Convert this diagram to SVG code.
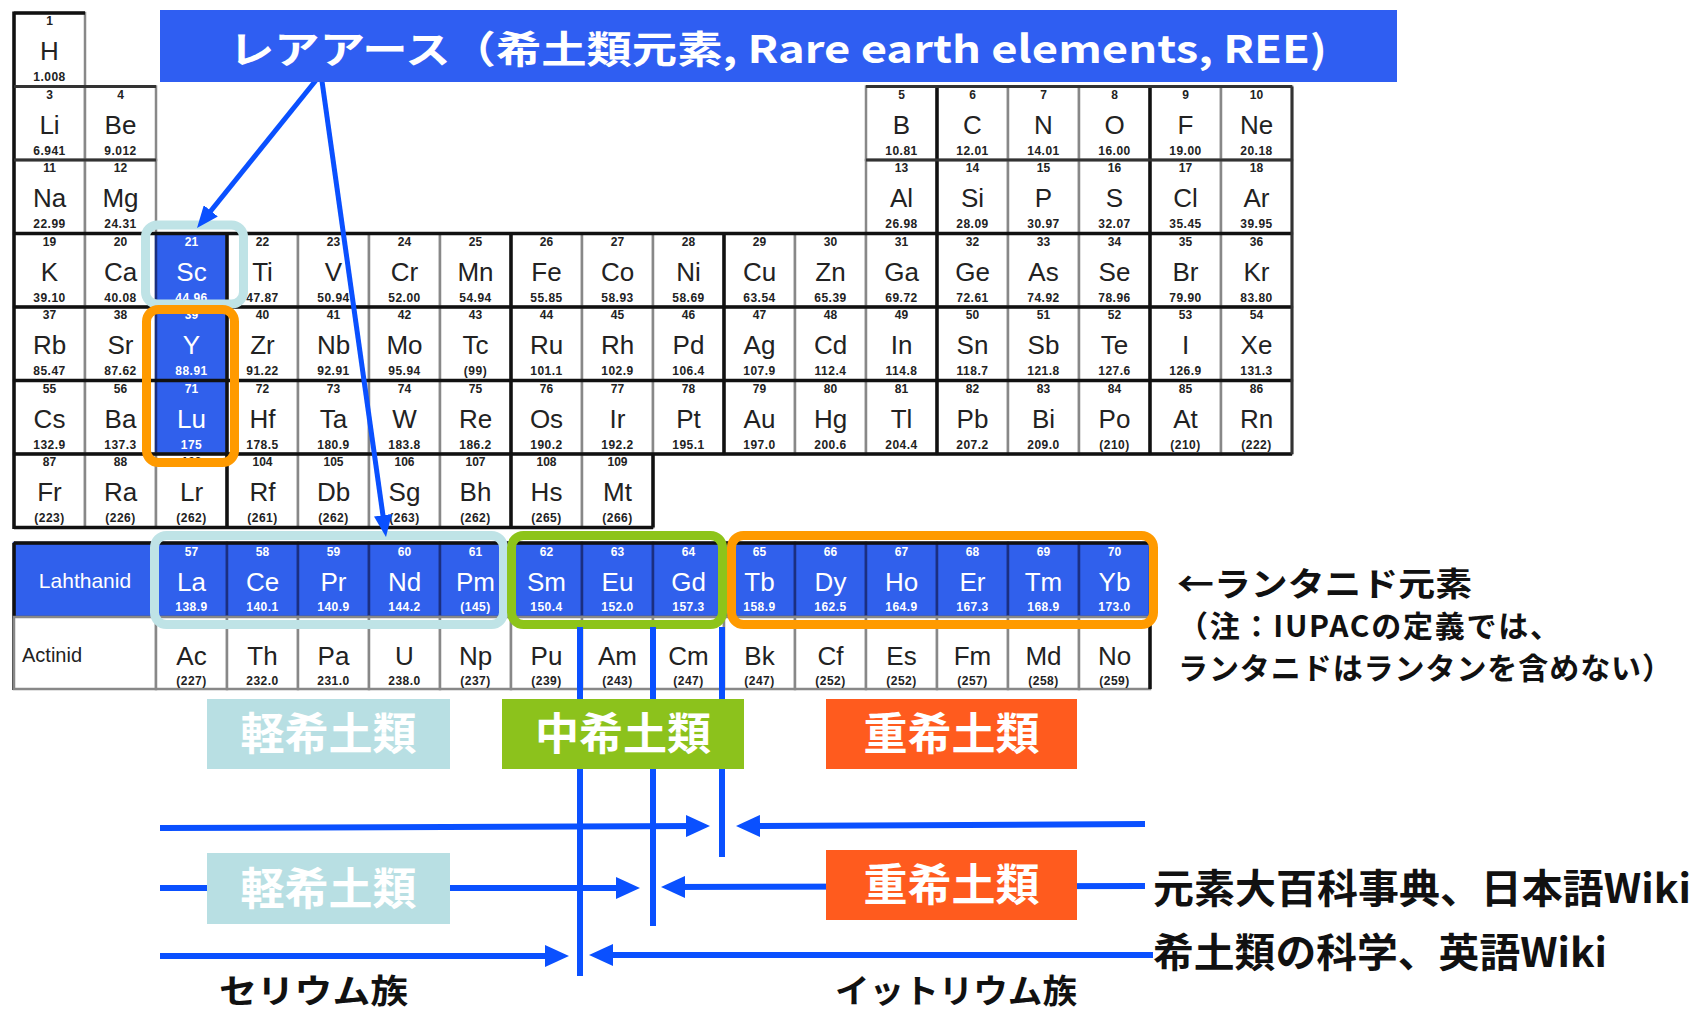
<svg xmlns="http://www.w3.org/2000/svg" width="1694" height="1013" viewBox="0 0 1694 1013">
<style>
.c{fill:#fff;stroke:#888;stroke-width:2.5}
.bl .c{fill:#3060ec;stroke:#1b2f80}
text{font-family:"Liberation Sans",Arial,sans-serif;text-anchor:middle;fill:#222}
.n{font-size:12px;font-weight:bold}
.s{font-size:26px}
.m{font-size:12px;font-weight:bold;letter-spacing:0.5px}
.bl text{fill:#fff}
.blk{stroke:#111;stroke-width:3.5;fill:none}
.jp{font-family:"Noto Sans CJK JP","Noto Sans",sans-serif;font-weight:bold;text-anchor:start}
.lab{font-family:"Noto Sans CJK JP",sans-serif;font-weight:bold;font-size:44px;fill:#fff;text-anchor:middle}
.hl{fill:none;stroke-width:9}
.ln{stroke:#0a50ff;stroke-width:6;fill:none}
</style>
<defs>
<marker id="ah" markerUnits="userSpaceOnUse" markerWidth="24" markerHeight="22" refX="14" refY="11" orient="auto"><path d="M0,0 L24,11 L0,22 Z" fill="#0a50ff"/></marker>
<marker id="ah2" markerUnits="userSpaceOnUse" markerWidth="22" markerHeight="18" refX="12" refY="9" orient="auto"><path d="M0,0 L22,9 L0,18 Z" fill="#0a50ff"/></marker>
</defs>
<rect width="1694" height="1013" fill="#fff"/>

<g id="table">
<g id="H" transform="translate(14,13)"><rect class="c" width="71" height="73.5"/><text class="n" x="35.5" y="12">1</text><text class="s" x="35.5" y="47">H</text><text class="m" x="35.5" y="68">1.008</text></g>
<g id="Li" transform="translate(14,86.5)"><rect class="c" width="71" height="73.5"/><text class="n" x="35.5" y="12">3</text><text class="s" x="35.5" y="47">Li</text><text class="m" x="35.5" y="68">6.941</text></g>
<g id="Be" transform="translate(85,86.5)"><rect class="c" width="71" height="73.5"/><text class="n" x="35.5" y="12">4</text><text class="s" x="35.5" y="47">Be</text><text class="m" x="35.5" y="68">9.012</text></g>
<g id="B" transform="translate(866,86.5)"><rect class="c" width="71" height="73.5"/><text class="n" x="35.5" y="12">5</text><text class="s" x="35.5" y="47">B</text><text class="m" x="35.5" y="68">10.81</text></g>
<g id="C" transform="translate(937,86.5)"><rect class="c" width="71" height="73.5"/><text class="n" x="35.5" y="12">6</text><text class="s" x="35.5" y="47">C</text><text class="m" x="35.5" y="68">12.01</text></g>
<g id="N" transform="translate(1008,86.5)"><rect class="c" width="71" height="73.5"/><text class="n" x="35.5" y="12">7</text><text class="s" x="35.5" y="47">N</text><text class="m" x="35.5" y="68">14.01</text></g>
<g id="O" transform="translate(1079,86.5)"><rect class="c" width="71" height="73.5"/><text class="n" x="35.5" y="12">8</text><text class="s" x="35.5" y="47">O</text><text class="m" x="35.5" y="68">16.00</text></g>
<g id="F" transform="translate(1150,86.5)"><rect class="c" width="71" height="73.5"/><text class="n" x="35.5" y="12">9</text><text class="s" x="35.5" y="47">F</text><text class="m" x="35.5" y="68">19.00</text></g>
<g id="Ne" transform="translate(1221,86.5)"><rect class="c" width="71" height="73.5"/><text class="n" x="35.5" y="12">10</text><text class="s" x="35.5" y="47">Ne</text><text class="m" x="35.5" y="68">20.18</text></g>

<g id="Na" transform="translate(14,160)"><rect class="c" width="71" height="73.5"/><text class="n" x="35.5" y="12">11</text><text class="s" x="35.5" y="47">Na</text><text class="m" x="35.5" y="68">22.99</text></g>
<g id="Mg" transform="translate(85,160)"><rect class="c" width="71" height="73.5"/><text class="n" x="35.5" y="12">12</text><text class="s" x="35.5" y="47">Mg</text><text class="m" x="35.5" y="68">24.31</text></g>
<g id="Al" transform="translate(866,160)"><rect class="c" width="71" height="73.5"/><text class="n" x="35.5" y="12">13</text><text class="s" x="35.5" y="47">Al</text><text class="m" x="35.5" y="68">26.98</text></g>
<g id="Si" transform="translate(937,160)"><rect class="c" width="71" height="73.5"/><text class="n" x="35.5" y="12">14</text><text class="s" x="35.5" y="47">Si</text><text class="m" x="35.5" y="68">28.09</text></g>
<g id="P" transform="translate(1008,160)"><rect class="c" width="71" height="73.5"/><text class="n" x="35.5" y="12">15</text><text class="s" x="35.5" y="47">P</text><text class="m" x="35.5" y="68">30.97</text></g>
<g id="S" transform="translate(1079,160)"><rect class="c" width="71" height="73.5"/><text class="n" x="35.5" y="12">16</text><text class="s" x="35.5" y="47">S</text><text class="m" x="35.5" y="68">32.07</text></g>
<g id="Cl" transform="translate(1150,160)"><rect class="c" width="71" height="73.5"/><text class="n" x="35.5" y="12">17</text><text class="s" x="35.5" y="47">Cl</text><text class="m" x="35.5" y="68">35.45</text></g>
<g id="Ar" transform="translate(1221,160)"><rect class="c" width="71" height="73.5"/><text class="n" x="35.5" y="12">18</text><text class="s" x="35.5" y="47">Ar</text><text class="m" x="35.5" y="68">39.95</text></g>

<g id="K" transform="translate(14,233.5)"><rect class="c" width="71" height="73.5"/><text class="n" x="35.5" y="12">19</text><text class="s" x="35.5" y="47">K</text><text class="m" x="35.5" y="68">39.10</text></g>
<g id="Ca" transform="translate(85,233.5)"><rect class="c" width="71" height="73.5"/><text class="n" x="35.5" y="12">20</text><text class="s" x="35.5" y="47">Ca</text><text class="m" x="35.5" y="68">40.08</text></g>
<g id="Sc" class="bl" transform="translate(156,233.5)"><rect class="c" width="71" height="73.5"/><text class="n" x="35.5" y="12">21</text><text class="s" x="35.5" y="47">Sc</text><text class="m" x="35.5" y="68">44.96</text></g>
<g id="Ti" transform="translate(227,233.5)"><rect class="c" width="71" height="73.5"/><text class="n" x="35.5" y="12">22</text><text class="s" x="35.5" y="47">Ti</text><text class="m" x="35.5" y="68">47.87</text></g>
<g id="V" transform="translate(298,233.5)"><rect class="c" width="71" height="73.5"/><text class="n" x="35.5" y="12">23</text><text class="s" x="35.5" y="47">V</text><text class="m" x="35.5" y="68">50.94</text></g>
<g id="Cr" transform="translate(369,233.5)"><rect class="c" width="71" height="73.5"/><text class="n" x="35.5" y="12">24</text><text class="s" x="35.5" y="47">Cr</text><text class="m" x="35.5" y="68">52.00</text></g>
<g id="Mn" transform="translate(440,233.5)"><rect class="c" width="71" height="73.5"/><text class="n" x="35.5" y="12">25</text><text class="s" x="35.5" y="47">Mn</text><text class="m" x="35.5" y="68">54.94</text></g>
<g id="Fe" transform="translate(511,233.5)"><rect class="c" width="71" height="73.5"/><text class="n" x="35.5" y="12">26</text><text class="s" x="35.5" y="47">Fe</text><text class="m" x="35.5" y="68">55.85</text></g>
<g id="Co" transform="translate(582,233.5)"><rect class="c" width="71" height="73.5"/><text class="n" x="35.5" y="12">27</text><text class="s" x="35.5" y="47">Co</text><text class="m" x="35.5" y="68">58.93</text></g>
<g id="Ni" transform="translate(653,233.5)"><rect class="c" width="71" height="73.5"/><text class="n" x="35.5" y="12">28</text><text class="s" x="35.5" y="47">Ni</text><text class="m" x="35.5" y="68">58.69</text></g>
<g id="Cu" transform="translate(724,233.5)"><rect class="c" width="71" height="73.5"/><text class="n" x="35.5" y="12">29</text><text class="s" x="35.5" y="47">Cu</text><text class="m" x="35.5" y="68">63.54</text></g>
<g id="Zn" transform="translate(795,233.5)"><rect class="c" width="71" height="73.5"/><text class="n" x="35.5" y="12">30</text><text class="s" x="35.5" y="47">Zn</text><text class="m" x="35.5" y="68">65.39</text></g>
<g id="Ga" transform="translate(866,233.5)"><rect class="c" width="71" height="73.5"/><text class="n" x="35.5" y="12">31</text><text class="s" x="35.5" y="47">Ga</text><text class="m" x="35.5" y="68">69.72</text></g>
<g id="Ge" transform="translate(937,233.5)"><rect class="c" width="71" height="73.5"/><text class="n" x="35.5" y="12">32</text><text class="s" x="35.5" y="47">Ge</text><text class="m" x="35.5" y="68">72.61</text></g>
<g id="As" transform="translate(1008,233.5)"><rect class="c" width="71" height="73.5"/><text class="n" x="35.5" y="12">33</text><text class="s" x="35.5" y="47">As</text><text class="m" x="35.5" y="68">74.92</text></g>
<g id="Se" transform="translate(1079,233.5)"><rect class="c" width="71" height="73.5"/><text class="n" x="35.5" y="12">34</text><text class="s" x="35.5" y="47">Se</text><text class="m" x="35.5" y="68">78.96</text></g>
<g id="Br" transform="translate(1150,233.5)"><rect class="c" width="71" height="73.5"/><text class="n" x="35.5" y="12">35</text><text class="s" x="35.5" y="47">Br</text><text class="m" x="35.5" y="68">79.90</text></g>
<g id="Kr" transform="translate(1221,233.5)"><rect class="c" width="71" height="73.5"/><text class="n" x="35.5" y="12">36</text><text class="s" x="35.5" y="47">Kr</text><text class="m" x="35.5" y="68">83.80</text></g>

<g id="Rb" transform="translate(14,307)"><rect class="c" width="71" height="73.5"/><text class="n" x="35.5" y="12">37</text><text class="s" x="35.5" y="47">Rb</text><text class="m" x="35.5" y="68">85.47</text></g>
<g id="Sr" transform="translate(85,307)"><rect class="c" width="71" height="73.5"/><text class="n" x="35.5" y="12">38</text><text class="s" x="35.5" y="47">Sr</text><text class="m" x="35.5" y="68">87.62</text></g>
<g id="Y" class="bl" transform="translate(156,307)"><rect class="c" width="71" height="73.5"/><text class="n" x="35.5" y="12">39</text><text class="s" x="35.5" y="47">Y</text><text class="m" x="35.5" y="68">88.91</text></g>
<g id="Zr" transform="translate(227,307)"><rect class="c" width="71" height="73.5"/><text class="n" x="35.5" y="12">40</text><text class="s" x="35.5" y="47">Zr</text><text class="m" x="35.5" y="68">91.22</text></g>
<g id="Nb" transform="translate(298,307)"><rect class="c" width="71" height="73.5"/><text class="n" x="35.5" y="12">41</text><text class="s" x="35.5" y="47">Nb</text><text class="m" x="35.5" y="68">92.91</text></g>
<g id="Mo" transform="translate(369,307)"><rect class="c" width="71" height="73.5"/><text class="n" x="35.5" y="12">42</text><text class="s" x="35.5" y="47">Mo</text><text class="m" x="35.5" y="68">95.94</text></g>
<g id="Tc" transform="translate(440,307)"><rect class="c" width="71" height="73.5"/><text class="n" x="35.5" y="12">43</text><text class="s" x="35.5" y="47">Tc</text><text class="m" x="35.5" y="68">(99)</text></g>
<g id="Ru" transform="translate(511,307)"><rect class="c" width="71" height="73.5"/><text class="n" x="35.5" y="12">44</text><text class="s" x="35.5" y="47">Ru</text><text class="m" x="35.5" y="68">101.1</text></g>
<g id="Rh" transform="translate(582,307)"><rect class="c" width="71" height="73.5"/><text class="n" x="35.5" y="12">45</text><text class="s" x="35.5" y="47">Rh</text><text class="m" x="35.5" y="68">102.9</text></g>
<g id="Pd" transform="translate(653,307)"><rect class="c" width="71" height="73.5"/><text class="n" x="35.5" y="12">46</text><text class="s" x="35.5" y="47">Pd</text><text class="m" x="35.5" y="68">106.4</text></g>
<g id="Ag" transform="translate(724,307)"><rect class="c" width="71" height="73.5"/><text class="n" x="35.5" y="12">47</text><text class="s" x="35.5" y="47">Ag</text><text class="m" x="35.5" y="68">107.9</text></g>
<g id="Cd" transform="translate(795,307)"><rect class="c" width="71" height="73.5"/><text class="n" x="35.5" y="12">48</text><text class="s" x="35.5" y="47">Cd</text><text class="m" x="35.5" y="68">112.4</text></g>
<g id="In" transform="translate(866,307)"><rect class="c" width="71" height="73.5"/><text class="n" x="35.5" y="12">49</text><text class="s" x="35.5" y="47">In</text><text class="m" x="35.5" y="68">114.8</text></g>
<g id="Sn" transform="translate(937,307)"><rect class="c" width="71" height="73.5"/><text class="n" x="35.5" y="12">50</text><text class="s" x="35.5" y="47">Sn</text><text class="m" x="35.5" y="68">118.7</text></g>
<g id="Sb" transform="translate(1008,307)"><rect class="c" width="71" height="73.5"/><text class="n" x="35.5" y="12">51</text><text class="s" x="35.5" y="47">Sb</text><text class="m" x="35.5" y="68">121.8</text></g>
<g id="Te" transform="translate(1079,307)"><rect class="c" width="71" height="73.5"/><text class="n" x="35.5" y="12">52</text><text class="s" x="35.5" y="47">Te</text><text class="m" x="35.5" y="68">127.6</text></g>
<g id="I" transform="translate(1150,307)"><rect class="c" width="71" height="73.5"/><text class="n" x="35.5" y="12">53</text><text class="s" x="35.5" y="47">I</text><text class="m" x="35.5" y="68">126.9</text></g>
<g id="Xe" transform="translate(1221,307)"><rect class="c" width="71" height="73.5"/><text class="n" x="35.5" y="12">54</text><text class="s" x="35.5" y="47">Xe</text><text class="m" x="35.5" y="68">131.3</text></g>

<g id="Cs" transform="translate(14,380.5)"><rect class="c" width="71" height="73.5"/><text class="n" x="35.5" y="12">55</text><text class="s" x="35.5" y="47">Cs</text><text class="m" x="35.5" y="68">132.9</text></g>
<g id="Ba" transform="translate(85,380.5)"><rect class="c" width="71" height="73.5"/><text class="n" x="35.5" y="12">56</text><text class="s" x="35.5" y="47">Ba</text><text class="m" x="35.5" y="68">137.3</text></g>
<g id="Lu" class="bl" transform="translate(156,380.5)"><rect class="c" width="71" height="73.5"/><text class="n" x="35.5" y="12">71</text><text class="s" x="35.5" y="47">Lu</text><text class="m" x="35.5" y="68">175</text></g>
<g id="Hf" transform="translate(227,380.5)"><rect class="c" width="71" height="73.5"/><text class="n" x="35.5" y="12">72</text><text class="s" x="35.5" y="47">Hf</text><text class="m" x="35.5" y="68">178.5</text></g>
<g id="Ta" transform="translate(298,380.5)"><rect class="c" width="71" height="73.5"/><text class="n" x="35.5" y="12">73</text><text class="s" x="35.5" y="47">Ta</text><text class="m" x="35.5" y="68">180.9</text></g>
<g id="W" transform="translate(369,380.5)"><rect class="c" width="71" height="73.5"/><text class="n" x="35.5" y="12">74</text><text class="s" x="35.5" y="47">W</text><text class="m" x="35.5" y="68">183.8</text></g>
<g id="Re" transform="translate(440,380.5)"><rect class="c" width="71" height="73.5"/><text class="n" x="35.5" y="12">75</text><text class="s" x="35.5" y="47">Re</text><text class="m" x="35.5" y="68">186.2</text></g>
<g id="Os" transform="translate(511,380.5)"><rect class="c" width="71" height="73.5"/><text class="n" x="35.5" y="12">76</text><text class="s" x="35.5" y="47">Os</text><text class="m" x="35.5" y="68">190.2</text></g>
<g id="Ir" transform="translate(582,380.5)"><rect class="c" width="71" height="73.5"/><text class="n" x="35.5" y="12">77</text><text class="s" x="35.5" y="47">Ir</text><text class="m" x="35.5" y="68">192.2</text></g>
<g id="Pt" transform="translate(653,380.5)"><rect class="c" width="71" height="73.5"/><text class="n" x="35.5" y="12">78</text><text class="s" x="35.5" y="47">Pt</text><text class="m" x="35.5" y="68">195.1</text></g>
<g id="Au" transform="translate(724,380.5)"><rect class="c" width="71" height="73.5"/><text class="n" x="35.5" y="12">79</text><text class="s" x="35.5" y="47">Au</text><text class="m" x="35.5" y="68">197.0</text></g>
<g id="Hg" transform="translate(795,380.5)"><rect class="c" width="71" height="73.5"/><text class="n" x="35.5" y="12">80</text><text class="s" x="35.5" y="47">Hg</text><text class="m" x="35.5" y="68">200.6</text></g>
<g id="Tl" transform="translate(866,380.5)"><rect class="c" width="71" height="73.5"/><text class="n" x="35.5" y="12">81</text><text class="s" x="35.5" y="47">Tl</text><text class="m" x="35.5" y="68">204.4</text></g>
<g id="Pb" transform="translate(937,380.5)"><rect class="c" width="71" height="73.5"/><text class="n" x="35.5" y="12">82</text><text class="s" x="35.5" y="47">Pb</text><text class="m" x="35.5" y="68">207.2</text></g>
<g id="Bi" transform="translate(1008,380.5)"><rect class="c" width="71" height="73.5"/><text class="n" x="35.5" y="12">83</text><text class="s" x="35.5" y="47">Bi</text><text class="m" x="35.5" y="68">209.0</text></g>
<g id="Po" transform="translate(1079,380.5)"><rect class="c" width="71" height="73.5"/><text class="n" x="35.5" y="12">84</text><text class="s" x="35.5" y="47">Po</text><text class="m" x="35.5" y="68">(210)</text></g>
<g id="At" transform="translate(1150,380.5)"><rect class="c" width="71" height="73.5"/><text class="n" x="35.5" y="12">85</text><text class="s" x="35.5" y="47">At</text><text class="m" x="35.5" y="68">(210)</text></g>
<g id="Rn" transform="translate(1221,380.5)"><rect class="c" width="71" height="73.5"/><text class="n" x="35.5" y="12">86</text><text class="s" x="35.5" y="47">Rn</text><text class="m" x="35.5" y="68">(222)</text></g>

<g id="Fr" transform="translate(14,454)"><rect class="c" width="71" height="73.5"/><text class="n" x="35.5" y="12">87</text><text class="s" x="35.5" y="47">Fr</text><text class="m" x="35.5" y="68">(223)</text></g>
<g id="Ra" transform="translate(85,454)"><rect class="c" width="71" height="73.5"/><text class="n" x="35.5" y="12">88</text><text class="s" x="35.5" y="47">Ra</text><text class="m" x="35.5" y="68">(226)</text></g>
<g id="Lr" transform="translate(156,454)"><rect class="c" width="71" height="73.5"/><text class="n" x="35.5" y="12">103</text><text class="s" x="35.5" y="47">Lr</text><text class="m" x="35.5" y="68">(262)</text></g>
<g id="Rf" transform="translate(227,454)"><rect class="c" width="71" height="73.5"/><text class="n" x="35.5" y="12">104</text><text class="s" x="35.5" y="47">Rf</text><text class="m" x="35.5" y="68">(261)</text></g>
<g id="Db" transform="translate(298,454)"><rect class="c" width="71" height="73.5"/><text class="n" x="35.5" y="12">105</text><text class="s" x="35.5" y="47">Db</text><text class="m" x="35.5" y="68">(262)</text></g>
<g id="Sg" transform="translate(369,454)"><rect class="c" width="71" height="73.5"/><text class="n" x="35.5" y="12">106</text><text class="s" x="35.5" y="47">Sg</text><text class="m" x="35.5" y="68">(263)</text></g>
<g id="Bh" transform="translate(440,454)"><rect class="c" width="71" height="73.5"/><text class="n" x="35.5" y="12">107</text><text class="s" x="35.5" y="47">Bh</text><text class="m" x="35.5" y="68">(262)</text></g>
<g id="Hs" transform="translate(511,454)"><rect class="c" width="71" height="73.5"/><text class="n" x="35.5" y="12">108</text><text class="s" x="35.5" y="47">Hs</text><text class="m" x="35.5" y="68">(265)</text></g>
<g id="Mt" transform="translate(582,454)"><rect class="c" width="71" height="73.5"/><text class="n" x="35.5" y="12">109</text><text class="s" x="35.5" y="47">Mt</text><text class="m" x="35.5" y="68">(266)</text></g>

<path class="blk" d="M14,13 H85 M14,11.5 V529 M14,527.5 H653 M14,233.5 H1292 M14,307 H1292 M14,380.5 H1292 M14,454 H1292 M227,233.5 V527.5 M511,233.5 V527.5 M724,233.5 V454 M937,86.5 V454 M1150,86.5 V454 M653,454 V527.5"/>
<path d="M14,86.5 H156 M866,86.5 H1292 M14,160 H156 M866,160 H1292 M1292,86.5 V454" stroke="#333" stroke-width="3" fill="none"/>
</g>

<g id="lanthanide-row">
<g id="Lanthanid" class="bl" transform="translate(14,543)"><rect class="c" width="142" height="74"/><text x="71" y="45" style="font-size:21px">Lahthanid</text></g>
<g id="La" class="bl" transform="translate(156,543)"><rect class="c" width="71" height="74"/><text class="n" x="35.5" y="13">57</text><text class="s" x="35.5" y="48">La</text><text class="m" x="35.5" y="68">138.9</text></g>
<g id="Ce" class="bl" transform="translate(227,543)"><rect class="c" width="71" height="74"/><text class="n" x="35.5" y="13">58</text><text class="s" x="35.5" y="48">Ce</text><text class="m" x="35.5" y="68">140.1</text></g>
<g id="Pr" class="bl" transform="translate(298,543)"><rect class="c" width="71" height="74"/><text class="n" x="35.5" y="13">59</text><text class="s" x="35.5" y="48">Pr</text><text class="m" x="35.5" y="68">140.9</text></g>
<g id="Nd" class="bl" transform="translate(369,543)"><rect class="c" width="71" height="74"/><text class="n" x="35.5" y="13">60</text><text class="s" x="35.5" y="48">Nd</text><text class="m" x="35.5" y="68">144.2</text></g>
<g id="Pm" class="bl" transform="translate(440,543)"><rect class="c" width="71" height="74"/><text class="n" x="35.5" y="13">61</text><text class="s" x="35.5" y="48">Pm</text><text class="m" x="35.5" y="68">(145)</text></g>
<g id="Sm" class="bl" transform="translate(511,543)"><rect class="c" width="71" height="74"/><text class="n" x="35.5" y="13">62</text><text class="s" x="35.5" y="48">Sm</text><text class="m" x="35.5" y="68">150.4</text></g>
<g id="Eu" class="bl" transform="translate(582,543)"><rect class="c" width="71" height="74"/><text class="n" x="35.5" y="13">63</text><text class="s" x="35.5" y="48">Eu</text><text class="m" x="35.5" y="68">152.0</text></g>
<g id="Gd" class="bl" transform="translate(653,543)"><rect class="c" width="71" height="74"/><text class="n" x="35.5" y="13">64</text><text class="s" x="35.5" y="48">Gd</text><text class="m" x="35.5" y="68">157.3</text></g>
<g id="Tb" class="bl" transform="translate(724,543)"><rect class="c" width="71" height="74"/><text class="n" x="35.5" y="13">65</text><text class="s" x="35.5" y="48">Tb</text><text class="m" x="35.5" y="68">158.9</text></g>
<g id="Dy" class="bl" transform="translate(795,543)"><rect class="c" width="71" height="74"/><text class="n" x="35.5" y="13">66</text><text class="s" x="35.5" y="48">Dy</text><text class="m" x="35.5" y="68">162.5</text></g>
<g id="Ho" class="bl" transform="translate(866,543)"><rect class="c" width="71" height="74"/><text class="n" x="35.5" y="13">67</text><text class="s" x="35.5" y="48">Ho</text><text class="m" x="35.5" y="68">164.9</text></g>
<g id="Er" class="bl" transform="translate(937,543)"><rect class="c" width="71" height="74"/><text class="n" x="35.5" y="13">68</text><text class="s" x="35.5" y="48">Er</text><text class="m" x="35.5" y="68">167.3</text></g>
<g id="Tm" class="bl" transform="translate(1008,543)"><rect class="c" width="71" height="74"/><text class="n" x="35.5" y="13">69</text><text class="s" x="35.5" y="48">Tm</text><text class="m" x="35.5" y="68">168.9</text></g>
<g id="Yb" class="bl" transform="translate(1079,543)"><rect class="c" width="71" height="74"/><text class="n" x="35.5" y="13">70</text><text class="s" x="35.5" y="48">Yb</text><text class="m" x="35.5" y="68">173.0</text></g>
<path class="blk" d="M14,543 H1150 M14,543 V690"/>
</g>

<g id="actinide-row">
<g id="Actinid" transform="translate(14,617)"><rect class="c" width="142" height="72"/><text x="8" y="45" style="font-size:20px;text-anchor:start">Actinid</text></g>
<g id="Ac" transform="translate(156,617)"><rect class="c" width="71" height="72"/><text class="s" x="35.5" y="48">Ac</text><text class="m" x="35.5" y="68">(227)</text></g>
<g id="Th" transform="translate(227,617)"><rect class="c" width="71" height="72"/><text class="s" x="35.5" y="48">Th</text><text class="m" x="35.5" y="68">232.0</text></g>
<g id="Pa" transform="translate(298,617)"><rect class="c" width="71" height="72"/><text class="s" x="35.5" y="48">Pa</text><text class="m" x="35.5" y="68">231.0</text></g>
<g id="U" transform="translate(369,617)"><rect class="c" width="71" height="72"/><text class="s" x="35.5" y="48">U</text><text class="m" x="35.5" y="68">238.0</text></g>
<g id="Np" transform="translate(440,617)"><rect class="c" width="71" height="72"/><text class="s" x="35.5" y="48">Np</text><text class="m" x="35.5" y="68">(237)</text></g>
<g id="Pu" transform="translate(511,617)"><rect class="c" width="71" height="72"/><text class="s" x="35.5" y="48">Pu</text><text class="m" x="35.5" y="68">(239)</text></g>
<g id="Am" transform="translate(582,617)"><rect class="c" width="71" height="72"/><text class="s" x="35.5" y="48">Am</text><text class="m" x="35.5" y="68">(243)</text></g>
<g id="Cm" transform="translate(653,617)"><rect class="c" width="71" height="72"/><text class="s" x="35.5" y="48">Cm</text><text class="m" x="35.5" y="68">(247)</text></g>
<g id="Bk" transform="translate(724,617)"><rect class="c" width="71" height="72"/><text class="s" x="35.5" y="48">Bk</text><text class="m" x="35.5" y="68">(247)</text></g>
<g id="Cf" transform="translate(795,617)"><rect class="c" width="71" height="72"/><text class="s" x="35.5" y="48">Cf</text><text class="m" x="35.5" y="68">(252)</text></g>
<g id="Es" transform="translate(866,617)"><rect class="c" width="71" height="72"/><text class="s" x="35.5" y="48">Es</text><text class="m" x="35.5" y="68">(252)</text></g>
<g id="Fm" transform="translate(937,617)"><rect class="c" width="71" height="72"/><text class="s" x="35.5" y="48">Fm</text><text class="m" x="35.5" y="68">(257)</text></g>
<g id="Md" transform="translate(1008,617)"><rect class="c" width="71" height="72"/><text class="s" x="35.5" y="48">Md</text><text class="m" x="35.5" y="68">(258)</text></g>
<g id="No" transform="translate(1079,617)"><rect class="c" width="71" height="72"/><text class="s" x="35.5" y="48">No</text><text class="m" x="35.5" y="68">(259)</text></g>
<path d="M1150,617 V689" stroke="#111" stroke-width="3.5"/>
</g>

<g id="highlights">
<rect id="hl-Sc" class="hl" x="145.5" y="225" width="98" height="79" rx="12" stroke="#bfe3e6"/>
<rect id="hl-YLu" class="hl" x="146.5" y="309.5" width="88" height="153" rx="12" stroke="#ff9a00"/>
<rect id="hl-light" class="hl" x="154.5" y="535.5" width="349" height="89" rx="12" stroke="#bfe3e6"/>
<rect id="hl-mid" class="hl" x="511.5" y="535.5" width="211" height="89" rx="12" stroke="#8dc41a"/>
<rect id="hl-heavy" class="hl" x="731.5" y="535.5" width="422" height="89" rx="12" stroke="#ff9a00"/>
</g>

<g id="connectors">
<path class="ln" style="stroke-width:5" d="M321,74 L203.3,220.2" marker-end="url(#ah2)"/>
<path class="ln" style="stroke-width:5" d="M321,74 L384.6,527.1" marker-end="url(#ah2)"/>
<path class="ln" d="M580,627 V976"/>
<path class="ln" d="M653,627 V926"/>
<path class="ln" d="M722,627 V857"/>
<path class="ln" d="M160,828 L700,826" marker-end="url(#ah)"/>
<path class="ln" d="M1145,824 L746,826" marker-end="url(#ah)"/>
<path class="ln" d="M160,888 L630,888" marker-end="url(#ah)"/>
<path class="ln" d="M1145,886 L671,887" marker-end="url(#ah)"/>
<path class="ln" d="M160,956 L559,956" marker-end="url(#ah)"/>
<path class="ln" d="M1153,955 L599,955" marker-end="url(#ah)"/>
</g>

<g id="title">
<rect x="160" y="10" width="1237" height="72" fill="#2f5ef2"/>
<text class="jp" x="229" y="63" style="font-size:38px;fill:#fff" textLength="1098" lengthAdjust="spacingAndGlyphs">レアアース（希土類元素, Rare earth elements, REE)</text>
</g>

<g id="label-light-1"><rect x="207" y="699" width="243" height="70" fill="#b8dfe3"/><text class="lab" x="328.5" y="750">軽希土類</text></g>
<g id="label-mid"><rect x="502" y="699" width="242" height="70" fill="#8cc21c"/><text class="lab" x="623" y="750">中希土類</text></g>
<g id="label-heavy-1"><rect x="826" y="699" width="251" height="70" fill="#ff5b1e"/><text class="lab" x="951.5" y="750">重希土類</text></g>
<g id="label-light-2"><rect x="207" y="853" width="243" height="71" fill="#b8dfe3"/><text class="lab" x="328.5" y="905">軽希土類</text></g>
<g id="label-heavy-2"><rect x="826" y="850" width="251" height="70" fill="#ff5b1e"/><text class="lab" x="951.5" y="901">重希土類</text></g>

<g id="notes">
<text class="jp" x="1177" y="596" style="font-size:33px;fill:#111" textLength="295" lengthAdjust="spacingAndGlyphs">←ランタニド元素</text>
<text class="jp" x="1178" y="637" style="font-size:30px;fill:#111" textLength="382">（注：IUPACの定義では、</text>
<text class="jp" x="1178" y="679" style="font-size:30px;fill:#111" textLength="494">ランタニドはランタンを含めない）</text>
<text class="jp" x="1153" y="903" style="font-size:40px;fill:#111" textLength="538" lengthAdjust="spacingAndGlyphs">元素大百科事典、日本語Wiki</text>
<text class="jp" x="1153" y="967" style="font-size:40px;fill:#111" textLength="454" lengthAdjust="spacingAndGlyphs">希土類の科学、英語Wiki</text>
<text class="jp" x="219" y="1003" style="font-size:33px;fill:#111" textLength="189" lengthAdjust="spacingAndGlyphs">セリウム族</text>
<text class="jp" x="835" y="1003" style="font-size:33px;fill:#111" textLength="242" lengthAdjust="spacingAndGlyphs">イットリウム族</text>
</g>
</svg>
